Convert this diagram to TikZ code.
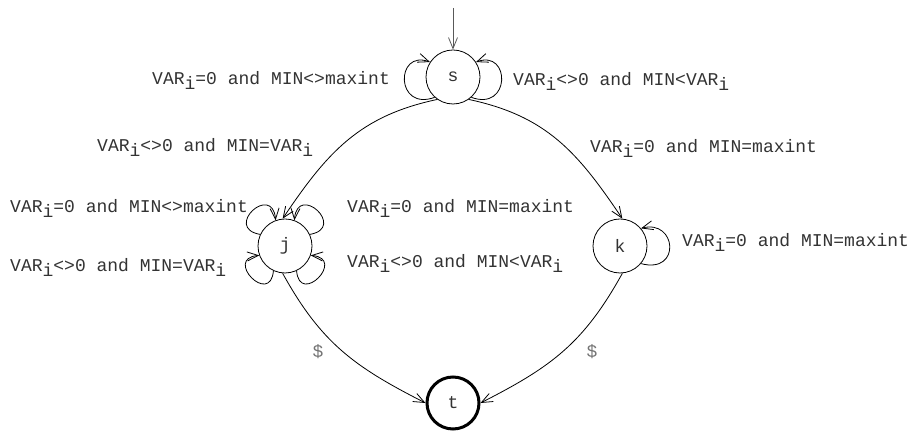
\documentclass[tikz,border=0pt]{standalone}
\usepackage{fontspec}
\setmainfont{Liberation Mono}
\usetikzlibrary{arrows.meta}
\newcommand{\vr}{VAR\raisebox{-5pt}{i}}
\begin{document}
\begin{tikzpicture}[x=1pt,y=1pt,
  font=\fontsize{18}{20}\selectfont,
  state/.style={circle,draw,line width=0.8pt,minimum size=54pt,inner sep=0pt,text=black!80},
  final/.style={state,line width=3pt,minimum size=52pt},
  tr/.style={line width=0.8pt,-{Straight Barb[length=11pt,width=9pt,line width=0.8pt]}},
  lbl/.style={anchor=base west,inner sep=0pt,text=black!80},
  dol/.style={anchor=center,inner sep=0pt,text=black!55}]
\useasboundingbox (0,0) rectangle (914,433);
\node[state] (s) at (453,356) {s};
\node[state] (j) at (285,187) {j};
\node[state] (k) at (620,187) {k};
\node[final] (t) at (453,30) {t};
\coordinate (init) at (453,425);
\draw[tr,draw=black!65] (init) -- (s.north);
% loops on s
\draw[tr] (s.228) .. controls +(200:42) and +(160:37) .. (s.147);
\draw[tr] (s.312) .. controls +(-20:42) and +(20:37) .. (s.33);
% loops on j
\draw[tr] (j.155) .. controls +(170:38) and +(95:38) .. (j.110);
\draw[tr] (j.25) .. controls +(10:38) and +(85:38) .. (j.70);
\draw[tr] (j.245) .. controls +(265:36) and +(185:36) .. (j.200);
\draw[tr] (j.295) .. controls +(275:36) and +(355:36) .. (j.340);
% loop on k
\draw[tr] (k.320) .. controls +(-15:42) and +(15:37) .. (k.40);
% main arcs
\draw[tr] (s.235) .. controls +(192:80) and +(56:80) .. (j.95);
\draw[tr] (s.305) .. controls +(-12:80) and +(124:80) .. (k.85);
\draw[tr] (j.265) .. controls +(-61:80) and +(153:80) .. (t.180);
\draw[tr] (k.275) .. controls +(241:80) and +(27:80) .. (t.0);
% labels
\node[lbl] (l1) at (152,348) {\vr=0 and MIN<>maxint};
\node[lbl] (l2) at (513,347) {\vr<>0 and MIN<\vr};
\node[lbl] (l3) at (97,281) {\vr<>0 and MIN=\vr};
\node[lbl] (l4) at (590,280) {\vr=0 and MIN=maxint};
\node[lbl] (l5) at (10,220) {\vr=0 and MIN<>maxint};
\node[lbl] (l6) at (10,161) {\vr<>0 and MIN=\vr};
\node[lbl] (l7) at (347,220) {\vr=0 and MIN=maxint};
\node[lbl] (l8) at (347,165) {\vr<>0 and MIN<\vr};
\node[lbl] (l9) at (682,186) {\vr=0 and MIN=maxint};
\node[dol] (d1) at (318,81) {\$};
\node[dol] (d2) at (592,81) {\$};
\end{tikzpicture}
\end{document}
